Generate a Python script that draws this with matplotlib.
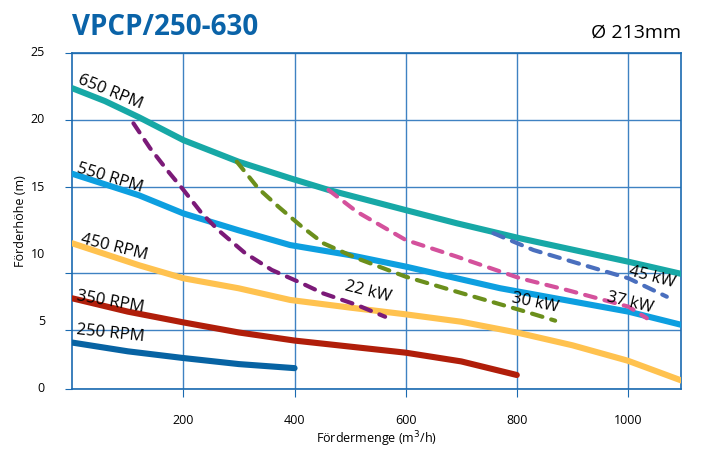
import matplotlib.pyplot as plt
import matplotlib.transforms as mtransforms

plt.rcParams['font.family'] = ['Open Sans', 'DejaVu Sans']

# pump curves (Q in m3/h, H in m)
q_650 = [0, 59, 120, 200, 299, 392, 461, 600, 692, 806, 1001, 1097]
h_650 = [22.36, 21.4, 20.2, 18.5, 16.9, 15.67, 14.8, 13.3, 12.32, 11.2, 9.46, 8.55]
q_550 = [0, 120, 200, 299, 392, 500, 600, 770, 1001, 1097]
h_550 = [16.0, 14.4, 13.05, 11.8, 10.7, 9.95, 9.1, 7.49, 5.75, 4.76]
q_450 = [0, 120, 200, 299, 392, 500, 600, 700, 800, 900, 1000, 1097]
h_450 = [10.83, 9.2, 8.23, 7.49, 6.62, 6.05, 5.55, 5.0, 4.2, 3.25, 2.1, 0.62]
q_350 = [0, 100, 200, 300, 400, 500, 600, 700, 800]
h_350 = [6.74, 5.75, 4.95, 4.2, 3.6, 3.15, 2.7, 2.05, 1.04]
q_250 = [0, 100, 200, 300, 400]
h_250 = [3.45, 2.8, 2.3, 1.85, 1.55]

# power curves
q_22 = [110, 140, 173, 200, 233, 263, 311, 359, 413, 452, 512, 563]
h_22 = [19.75, 17.9, 16.15, 14.8, 13.06, 11.8, 10.1, 8.85, 7.86, 7.1, 6.25, 5.37]
q_30 = [296, 335, 371, 413, 452, 512, 600, 692, 806, 869]
h_30 = [16.9, 14.9, 13.55, 12.07, 10.83, 9.72, 8.35, 7.23, 5.87, 5.08]
q_37 = [461, 512, 600, 692, 806, 890, 1001, 1034]
h_37 = [14.8, 13.18, 11.08, 9.84, 8.23, 7.36, 6.12, 5.26]
q_45 = [758, 830, 920, 1001, 1070]
h_45 = [11.58, 10.33, 9.22, 8.23, 6.86]

x_ticks = [200, 400, 600, 800, 1000]
y_labels = [0, 5, 10, 15, 20, 25]
y_grid = [0, 4.4, 8.6, 15, 20, 25]

fig = plt.figure(figsize=(7.07, 4.51), dpi=100)
ax = fig.add_axes([0.1023, 0.1375, 0.8605, 0.7456])
ax.set_xlim(0, 1095)
ax.set_ylim(0, 25)

grid_col = '#3f82c2'
for v in x_ticks:
    ax.axvline(v, color=grid_col, lw=1, zorder=1)
for v in y_grid:
    ax.axhline(v, color=grid_col, lw=1, zorder=1)
for s in ax.spines.values():
    s.set_color('#1a6ab0')
    s.set_linewidth(1.2)

ax.set_xticks(x_ticks)
ax.set_yticks(y_grid)
ax.set_yticklabels([])
ax.tick_params(axis='y', length=5, color='#1a6ab0')
ax.tick_params(axis='x', length=6, color='#1a6ab0', labelsize=9, pad=12)

# y labels are offset from the grid lines in the original
trans = mtransforms.blended_transform_factory(ax.transAxes, ax.transData)
for v in y_labels:
    ax.text(-0.045, v, str(v), transform=trans, fontsize=9,
            ha='right', va='center')

solid = dict(lw=4.4, solid_capstyle='round', solid_joinstyle='round', zorder=3)
ax.plot(q_650, h_650, color='#17a8a6', **solid)
ax.plot(q_550, h_550, color='#0d9fe0', **solid)
ax.plot(q_450, h_450, color='#ffc24f', **solid)
ax.plot(q_350, h_350, color='#b01e0a', **solid)
ax.plot(q_250, h_250, color='#0763a3', **solid)

dash = dict(lw=3.0, ls=(0, (2.6, 2.2)), dash_capstyle='round',
            dash_joinstyle='round', zorder=4)
ax.plot(q_22, h_22, color='#7b1a78', **dash)
ax.plot(q_30, h_30, color='#6b8f1c', **dash)
ax.plot(q_37, h_37, color='#d4519c', **dash)
ax.plot(q_45, h_45, color='#4a6fbe', **dash)

lab = dict(fontsize=12, color='black', ha='center', va='center', zorder=5)
ax.text(68, 22.1, '650 RPM', rotation=-22, **lab)
ax.text(68, 15.7, '550 RPM', rotation=-17, **lab)
ax.text(76, 10.55, '450 RPM', rotation=-14, **lab)
ax.text(68, 6.45, '350 RPM', rotation=-10, **lab)
ax.text(68, 4.1, '250 RPM', rotation=-6, **lab)
ax.text(532, 7.2, '22 kW', rotation=-14, **lab)
ax.text(832, 6.4, '30 kW', rotation=-12, **lab)
ax.text(1004, 6.4, '37 kW', rotation=-14, **lab)
ax.text(1043, 8.3, '45 kW', rotation=-15, **lab)

ax.set_xlabel('Fördermenge (m$^3$/h)', fontsize=9, labelpad=2)
ax.set_ylabel('Förderhöhe (m)', fontsize=9, labelpad=24)

fig.text(0.1023, 0.94, 'VPCP/250-630', fontsize=20, fontweight='bold',
         color='#0a63a8', ha='left', va='center')
fig.text(0.963, 0.927, 'Ø 213mm', fontsize=14, color='black',
         ha='right', va='center')

fig.savefig('out.png', dpi=100)
